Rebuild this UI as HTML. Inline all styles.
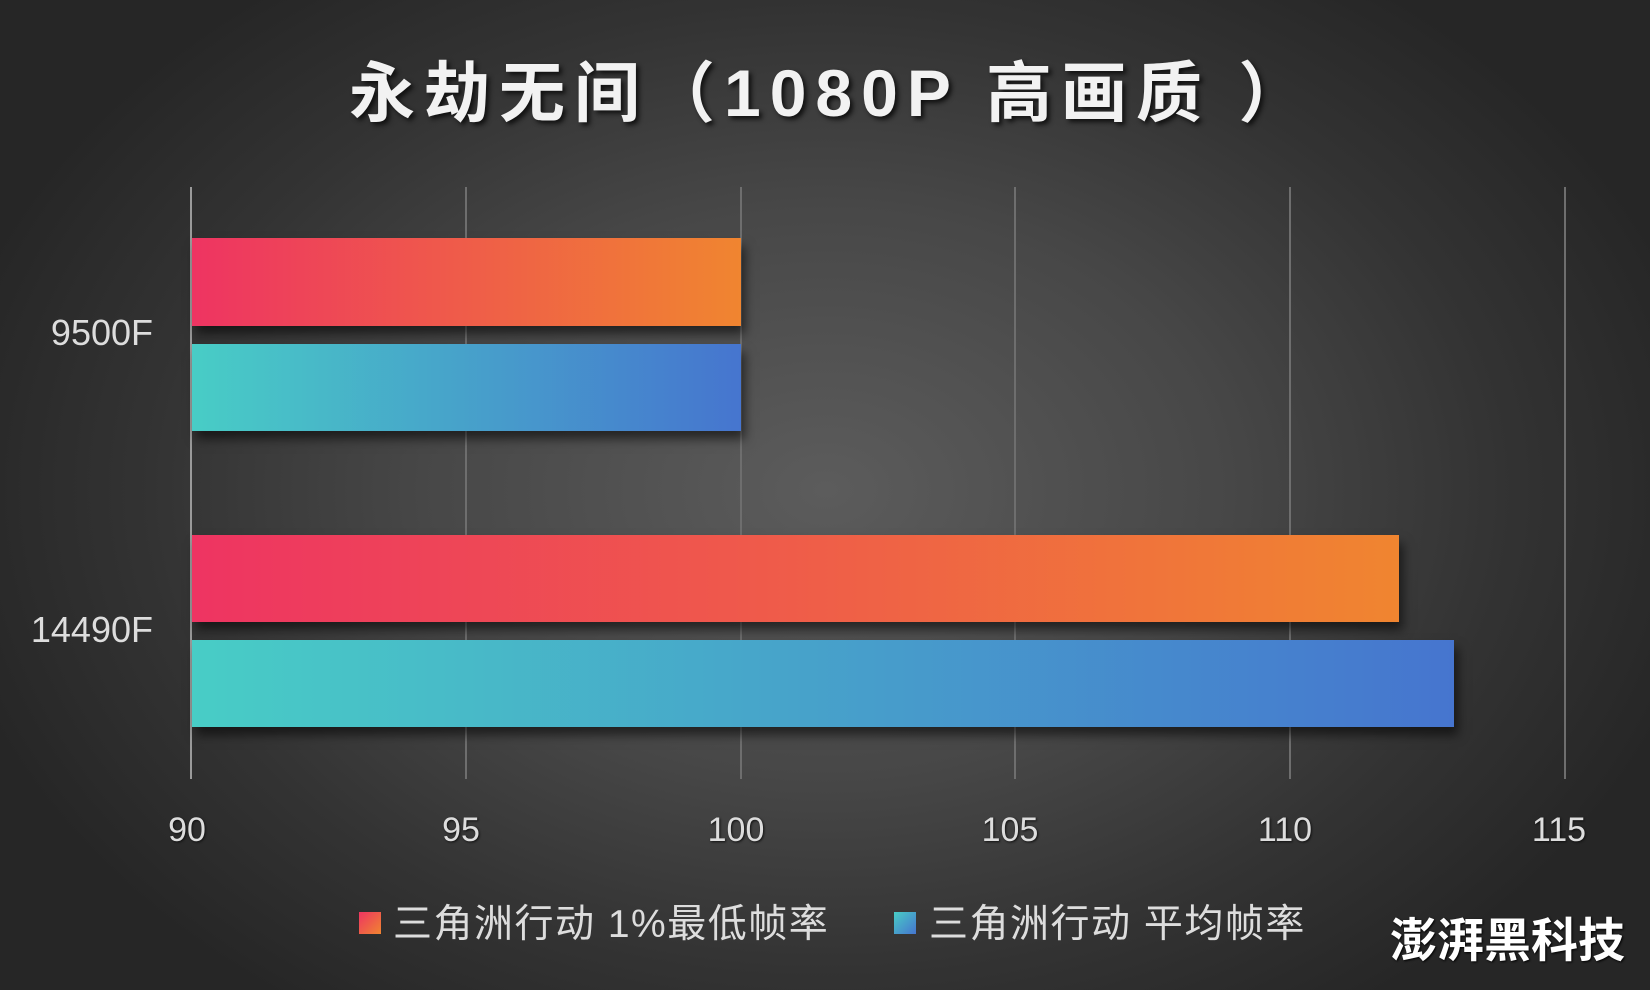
<!DOCTYPE html>
<html><head><meta charset="utf-8"><style>
html,body{margin:0;padding:0}
body{width:1650px;height:990px;overflow:hidden;position:relative;
background:radial-gradient(ellipse 900px 640px at 826px 490px,#5c5c5c 0%,#474747 45%,#333 75%,#262626 100%);
font-family:"Liberation Sans","Noto Sans CJK SC",sans-serif;color:#eee}
.t{position:absolute;white-space:nowrap}
.grid{position:absolute;top:187px;height:592px;width:2px;background:#6e6e6e}
.bar{position:absolute;left:192px;box-shadow:4px 8px 10px rgba(0,0,0,.55)}
.o{background:linear-gradient(90deg,#ee3462,#f08530)}
.b{background:linear-gradient(90deg,#48cdc6,#4675cf)}
.tick{position:absolute;top:811px;width:120px;text-align:center;font-size:34px;color:#ddd;text-shadow:1px 1px 2px #111}
</style></head><body>
<div class="t" style="left:349px;top:40px;font-size:66px;font-weight:bold;letter-spacing:9px;color:#f2f2f2;text-shadow:3px 3px 5px #111">永劫无间（1080P 高画质 ）</div>
<div class="grid" style="left:190px;background:#9a9a9a"></div>
<div class="grid" style="left:465px"></div>
<div class="grid" style="left:740px"></div>
<div class="grid" style="left:1014px"></div>
<div class="grid" style="left:1289px"></div>
<div class="grid" style="left:1564px"></div>
<div class="bar o" style="top:238px;height:88px;width:549px"></div>
<div class="bar b" style="top:344px;height:87px;width:549px"></div>
<div class="bar o" style="top:535px;height:87px;width:1207px"></div>
<div class="bar b" style="top:640px;height:87px;width:1262px"></div>
<div class="t" style="right:1497px;top:312px;font-size:36px;color:#ddd">9500F</div>
<div class="t" style="right:1497px;top:609px;font-size:36px;color:#ddd">14490F</div>
<div class="tick" style="left:127px">90</div>
<div class="tick" style="left:401px">95</div>
<div class="tick" style="left:676px">100</div>
<div class="tick" style="left:950px">105</div>
<div class="tick" style="left:1225px">110</div>
<div class="tick" style="left:1499px">115</div>
<div style="position:absolute;left:359px;top:912px;width:22px;height:22px;background:linear-gradient(135deg,#ee3462,#f08530)"></div>
<div class="t" style="left:393px;top:893px;font-size:39px;letter-spacing:1.5px;color:#ddd">三角洲行动 1%最低帧率</div>
<div style="position:absolute;left:894px;top:912px;width:22px;height:22px;background:linear-gradient(135deg,#48cdc6,#4675cf)"></div>
<div class="t" style="left:929px;top:893px;font-size:39px;letter-spacing:1.5px;color:#ddd">三角洲行动 平均帧率</div>
<div class="t" style="left:1390px;top:902px;font-size:47px;font-weight:bold;color:#fff;text-shadow:1px 1px 2px #000">澎湃黑科技</div>
</body></html>
